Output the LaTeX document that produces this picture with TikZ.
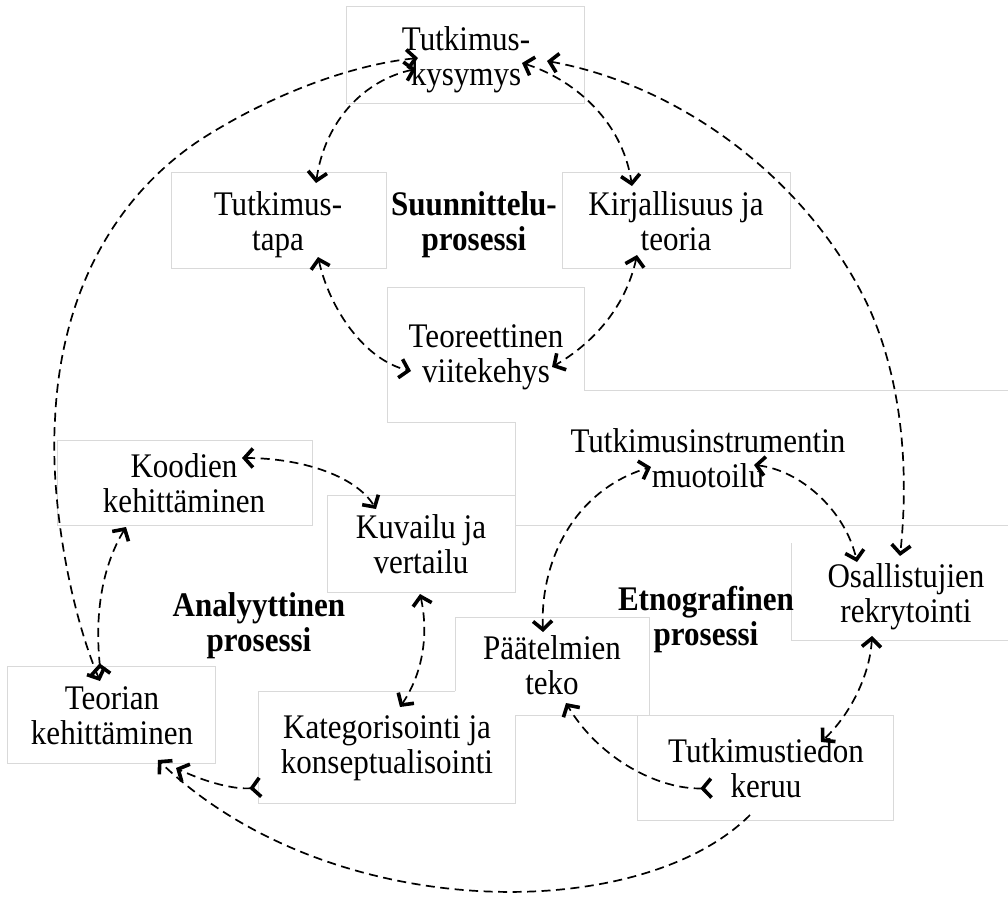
\documentclass[tikz,border=0pt]{standalone}
\usepackage{fontspec}
\setmainfont[FakeStretch=0.9]{Liberation Serif}
\usetikzlibrary{arrows.meta}

\tikzset{
  frame/.style={draw=black!15, line width=1pt},
  lbl/.style={align=center, inner sep=0pt, font=\fontsize{34.5}{35.5}\selectfont},
  phase/.style={lbl, font=\fontsize{34.5}{35.5}\selectfont\bfseries},
  link/.style={dash pattern=on 9pt off 5.5pt, line width=1.7pt},
  both/.style={arrows={Straight Barb[length=8.5pt,width=19pt,line width=3.6pt 0]-Straight Barb[length=8.5pt,width=19pt,line width=3.6pt 0]}},
  fwd/.style={arrows={-Straight Barb[length=8.5pt,width=19pt,line width=3.6pt 0]}},
  flip/.style={arrows={Straight Barb[reversed,length=8.5pt,width=19pt,line width=3.6pt 0]-Straight Barb[length=8.5pt,width=19pt,line width=3.6pt 0]}},
}

\begin{document}
\begin{tikzpicture}[x=1pt, y=-1pt]
\useasboundingbox (0,0) rectangle (1008,913);

% light text-box outlines
\draw[frame] (346,6) rectangle (584,103);
\draw[frame] (171,172) rectangle (386,268);
\draw[frame] (562,172) rectangle (790,268);
\draw[frame] (387,422) -- (387,287) -- (584,287) -- (584,390) -- (1008,390);
\draw[frame] (387,422) -- (515,422) -- (515,495);
\draw[frame] (57,440) rectangle (312,525);
\draw[frame] (327,495) rectangle (515,592);
\draw[frame] (515,525) -- (1008,525);
\draw[frame] (791,543) -- (791,640) -- (1008,640);
\draw[frame] (455,691) -- (455,617) -- (649,617) -- (649,715);
\draw[frame] (455,691) -- (258,691) -- (258,803) -- (515,803) -- (515,715);
\draw[frame] (515,715) -- (893,715) -- (893,820) -- (637,820) -- (637,715);
\draw[frame] (7,666) rectangle (215,763);

% labels
\node[lbl] (tk)  at (466,61)  {\strut Tutkimus-\\kysymys\strut};
\node[lbl] (tt)  at (278,226) {\strut Tutkimus-\\tapa\strut};
\node[phase] (sp) at (474,226) {\strut Suunnittelu-\\prosessi\strut};
\node[lbl] (kt)  at (676,226) {\strut Kirjallisuus ja\\teoria\strut};
\node[lbl] (tv)  at (486,358) {\strut Teoreettinen\\viitekehys\strut};
\node[lbl] (kd)  at (184,488) {\strut Koodien\\kehittäminen\strut};
\node[lbl] (kv)  at (421,549) {\strut Kuvailu ja\\vertailu\strut};
\node[phase] (ap) at (259,627) {\strut Analyyttinen\\prosessi\strut};
\node[lbl] (tke) at (112,720) {\strut Teorian\\kehittäminen\strut};
\node[lbl] (ka)  at (387,749) {\strut Kategorisointi ja\\konseptualisointi\strut};
\node[lbl] (ti)  at (708,463) {\strut Tutkimusinstrumentin\\muotoilu\strut};
\node[lbl] (os)  at (906,598) {\strut Osallistujien\\rekrytointi\strut};
\node[phase] (ep) at (706,621) {\strut Etnografinen\\prosessi\strut};
\node[lbl] (pa)  at (552,670) {\strut Päätelmien\\teko\strut};
\node[lbl] (td)  at (766,773) {\strut Tutkimustiedon\\keruu\strut};

% connector ends beside the labels
\coordinate (tkA) at (416,69);
\coordinate (tkB) at (418,58);
\coordinate (tkC) at (522,63);
\coordinate (tkD) at (547,61);
\coordinate (ttN) at (316,183);
\coordinate (ttS) at (318,257);
\coordinate (ktN) at (632,186);
\coordinate (ktS) at (637,255);
\coordinate (tvW) at (411,371);
\coordinate (tvE) at (552,367);
\coordinate (kdE) at (242,458);
\coordinate (kdS) at (126,527);
\coordinate (kvN) at (376,509);
\coordinate (kvS) at (420,594);
\coordinate (tkeN) at (100,681);
\coordinate (tkeN2) at (101,676);
\coordinate (tkeE) at (176,768);
\coordinate (tkeS) at (158,760);
\coordinate (kaN) at (400,707);
\coordinate (kaW) at (262,787);
\coordinate (tiW) at (651,467);
\coordinate (tiE) at (754,465);
\coordinate (osN1) at (857,562);
\coordinate (osN2) at (900,556);
\coordinate (osS) at (872,636);
\coordinate (paN) at (543,632);
\coordinate (paS) at (566,703);
\coordinate (tdN) at (821,742);
\coordinate (tdW) at (713,788);
\coordinate (tdS) at (750,815);

% planning cycle
\draw[link, both] (ttN) .. controls (325,120) and (365,80) .. (tkA);
\draw[link, both] (tkC) .. controls (570,78) and (622,118) .. (ktN);
\draw[link, both] (ttS) .. controls (330,310) and (365,360) .. (tvW);
\draw[link, both] (ktS) .. controls (625,310) and (590,345) .. (tvE);

% outer links
\draw[link, both] (tkeN) .. controls (70,610) and (50,500) .. (55,420)
   .. controls (60,300) and (110,200) .. (200,140)
   .. controls (270,95) and (350,65) .. (tkB);
\draw[link, both] (tkD) .. controls (680,85) and (810,180) .. (870,310)
   .. controls (905,390) and (908,480) .. (osN2);
\draw[link, fwd] (tdS) .. controls (640,925) and (330,925) .. (tkeS);

% analysis cycle
\draw[link, flip] (tkeN2) .. controls (95,620) and (100,570) .. (kdS);
\draw[link, both] (kdE) .. controls (300,458) and (355,475) .. (kvN);
\draw[link, both] (kvS) .. controls (428,630) and (425,670) .. (kaN);
\draw[link, flip] (kaW) .. controls (235,790) and (205,782) .. (tkeE);

% ethnographic cycle
\draw[link, both] (paN) .. controls (540,560) and (575,490) .. (tiW);
\draw[link, both] (tiE) .. controls (800,470) and (845,510) .. (osN1);
\draw[link, both] (osS) .. controls (870,675) and (850,715) .. (tdN);
\draw[link, flip] (tdW) .. controls (660,790) and (600,760) .. (paS);
\end{tikzpicture}
\end{document}
